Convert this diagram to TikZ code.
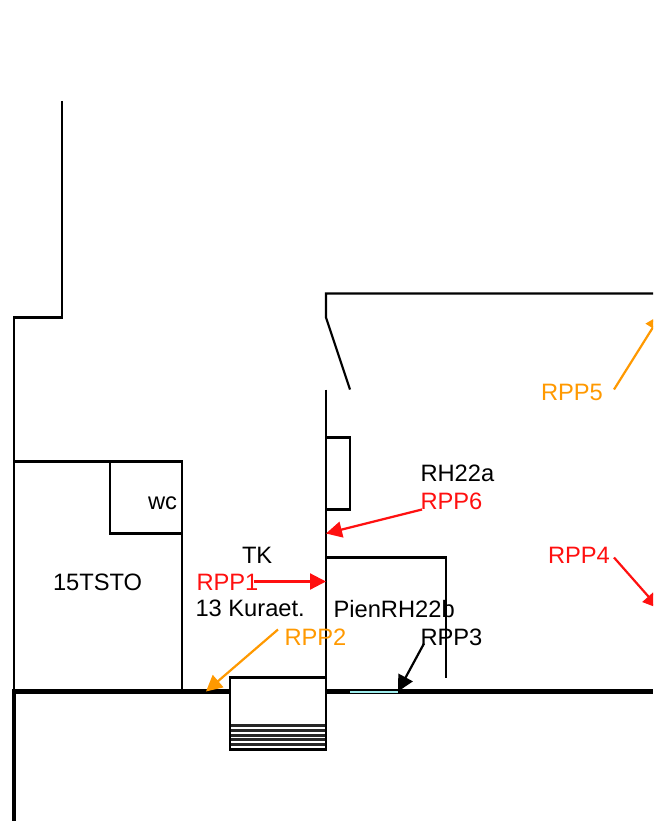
\documentclass[tikz,border=0pt]{standalone}
\usepackage{fontspec}
\setmainfont{Liberation Sans}
\usetikzlibrary{arrows.meta}
\definecolor{rppred}{RGB}{255,16,16}
\definecolor{rpporange}{RGB}{255,153,0}
\definecolor{winblue}{RGB}{160,238,238}
\tikzset{
  wall/.style={draw=black,line width=2.2pt,line join=miter},
  thickwall/.style={draw=black,line width=4.4pt,line join=miter},
  tread/.style={draw=black!85,line width=3pt},
  lbl/.style={anchor=base west,inner sep=0pt,outer sep=0pt,font=\fontsize{23.7pt}{26pt}\selectfont,text=black},
  redlbl/.style={lbl,text=rppred},
  orlbl/.style={lbl,text=rpporange},
  ptr/.style={line width=2.2pt,-{Triangle[length=16pt,width=16pt]},shorten >=0pt}
}
\begin{document}
\begin{tikzpicture}[x=1pt,y=-1pt]
\useasboundingbox (0,0) rectangle (653,821);
\clip (0,0) rectangle (653,821);
\fill[white] (0,0) rectangle (653,821);
% walls
\draw[wall] (62,101) -- (62,317.5) -- (14,317.5) -- (14,691);
\draw[wall] (14,461.5) -- (182,461.5) -- (182,691);
\draw[wall] (110,461.5) -- (110,533.5) -- (182,533.5);
\draw[wall] (653,293.5) -- (326,293.5) -- (326,317.5) -- (350,389.5);
\draw[wall] (326,389.5) -- (326,749);
\draw[wall] (326,437.5) -- (350,437.5) -- (350,509.5) -- (326,509.5);
\draw[wall] (326,557.5) -- (446,557.5) -- (446,677.5);
% thick walls
\draw[thickwall] (14,821) -- (14,691.5) -- (230,691.5);
\draw[thickwall] (326,691.5) -- (653,691.5);
\draw[winblue,line width=2pt] (350,691.5) -- (398,691.5);
% stairs
\fill[white] (230,677.5) rectangle (326,749.5);
\foreach \yy in {725.5,730.3,735.1,739.9,744.7} \draw[tread] (230,\yy) -- (326,\yy);
\draw[wall] (230,677.5) rectangle (326,749.5);
% labels
\node[lbl] (lwc) at (148,509.5) {wc};
\node[lbl] (lsto) at (53,590) {15TSTO};
\node[lbl] (ltk) at (242,563) {TK};
\node[redlbl] (lr1) at (196.5,590) {RPP1};
\node[lbl] (lkur) at (195.5,616) {13 Kuraet.};
\node[orlbl] (lr2) at (284.5,645) {RPP2};
\node[lbl] (lpien) at (333.5,617) {PienRH22b};
\node[lbl] (lr3) at (420.5,645) {RPP3};
\node[redlbl] (lr4) at (548,563) {RPP4};
\node[orlbl] (lr5) at (541,400) {RPP5};
\node[lbl] (lrh) at (420.5,481) {RH22a};
\node[redlbl] (lr6) at (420.5,509) {RPP6};
% connector ends
\coordinate (a1s) at (254,581.5); \coordinate (a1e) at (326,581.5);
\coordinate (a2s) at (278,629.5); \coordinate (a2e) at (206,691.5);
\coordinate (a3s) at (424,643.5); \coordinate (a3e) at (398,691.5);
\coordinate (a4s) at (614,557.5); \coordinate (a4e) at (659,608.5);
\coordinate (a5s) at (614,389.5); \coordinate (a5e) at (661,314.5);
\coordinate (a6s) at (422,509.5); \coordinate (a6e) at (326,533.5);
\draw[ptr,draw=rppred,fill=rppred] (a1s) -- (a1e);
\draw[ptr,draw=rpporange,fill=rpporange] (a2s) -- (a2e);
\draw[ptr,draw=black,fill=black] (a3s) -- (a3e);
\draw[ptr,draw=rppred,fill=rppred] (a4s) -- (a4e);
\draw[ptr,draw=rpporange,fill=rpporange] (a5s) -- (a5e);
\draw[ptr,draw=rppred,fill=rppred] (a6s) -- (a6e);
\end{tikzpicture}
\end{document}
